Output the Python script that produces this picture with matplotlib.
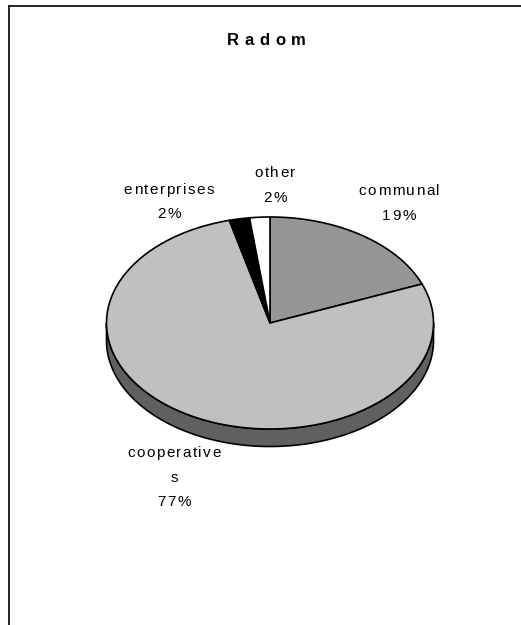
import numpy as np
import matplotlib
matplotlib.use("Agg")
import matplotlib.pyplot as plt
from matplotlib.patches import Polygon
from matplotlib.lines import Line2D
from matplotlib.font_manager import FontProperties

W, H, DPI = 521, 625, 100

title = "Radom"
labels = ["communal", "cooperatives", "enterprises", "other"]
shares = [19, 77, 2, 2]
top_colors = ["#969696", "#c0c0c0", "#000000", "#ffffff"]
side_colors = ["#4b4b4b", "#606060", "#000000", "#9a9a9a"]

# label lines and baseline positions (pixels)
label_lines = [["communal", "19%"], ["cooperative", "s", "77%"],
               ["enterprises", "2%"], ["other", "2%"]]
label_x = [399, 174, 169, 275]
label_y = [195, 457, 194, 177]
line_step = 24.5

# pie geometry in pixels
cx, cy = 270, 323
rx, ry = 163.5, 106
depth = 17.5

fig = plt.figure(figsize=(W / DPI, H / DPI), dpi=DPI)
ax = fig.add_axes([0, 0, 1, 1])
ax.set_xlim(0, W)
ax.set_ylim(H, 0)
ax.axis("off")


def arc(t0, t1, n=200):
    t = np.radians(np.linspace(t0, t1, n))
    return cx + rx * np.sin(t), cy - ry * np.cos(t)


frac = np.array(shares, dtype=float) / sum(shares) * 360
starts = np.concatenate([[0], np.cumsum(frac)[:-1]])

# side walls for the front half of the rim
for a0, f, col in zip(starts, frac, side_colors):
    lo, hi = max(a0, 90), min(a0 + f, 270)
    if hi <= lo:
        continue
    x, y = arc(lo, hi)
    pts = np.vstack([np.column_stack([x, y]),
                     np.column_stack([x[::-1], y[::-1] + depth])])
    ax.add_patch(Polygon(pts, closed=True, facecolor=col,
                         edgecolor="black", linewidth=1.2, zorder=1))

# top faces
for a0, f, col in zip(starts, frac, top_colors):
    x, y = arc(a0, a0 + f)
    pts = np.vstack([[cx, cy], np.column_stack([x, y])])
    ax.add_patch(Polygon(pts, closed=True, facecolor=col,
                         edgecolor="black", linewidth=1.2, zorder=2,
                         joinstyle="miter"))

renderer = fig.canvas.get_renderer()


def spaced_text(xc, yb, s, prop, track):
    def width(t):
        if not t:
            return 0.0
        return renderer.get_text_width_height_descent(t, prop, ismath=False)[0]
    total = width(s) + track * (len(s) - 1)
    x0 = xc - total / 2
    for i, ch in enumerate(s):
        ax.text(x0 + width(s[:i]) + i * track, yb, ch, fontproperties=prop,
                ha="left", va="baseline", color="black", zorder=5)


lab_prop = FontProperties(family="Liberation Sans", size=11)
title_prop = FontProperties(family="Liberation Sans", size=12, weight="bold")

spaced_text(266.5, 45, title, title_prop, 5.5)

for lines, lx, ly in zip(label_lines, label_x, label_y):
    for k, s in enumerate(lines):
        spaced_text(lx, ly + k * line_step, s, lab_prop, 1.5)

# chart frame (left and top edges)
fig.add_artist(Line2D([8.5 / W, 8.5 / W], [0, 1 - 5.5 / H],
                      transform=fig.transFigure, color="black", linewidth=1.2))
fig.add_artist(Line2D([8.5 / W, 1], [1 - 5.5 / H, 1 - 5.5 / H],
                      transform=fig.transFigure, color="black", linewidth=1.2))

fig.savefig("out.png", dpi=DPI)
